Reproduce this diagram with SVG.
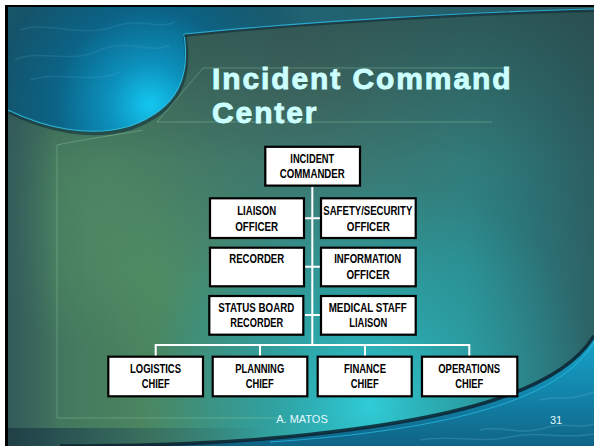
<svg xmlns="http://www.w3.org/2000/svg" width="594" height="446" viewBox="0 0 594 446">
<defs>
<linearGradient id="base" x1="0" y1="0" x2="1" y2="0">
<stop offset="0" stop-color="#3a665c"/>
<stop offset="0.1" stop-color="#44785e"/>
<stop offset="0.25" stop-color="#4b8760"/>
<stop offset="0.5" stop-color="#34908a"/>
<stop offset="0.78" stop-color="#2b8a8c"/>
<stop offset="1" stop-color="#2c6266"/>
</linearGradient>
<linearGradient id="topShade" x1="0" y1="0" x2="0" y2="1">
<stop offset="0" stop-color="#2a4848" stop-opacity="0.75"/>
<stop offset="0.35" stop-color="#2a4848" stop-opacity="0.15"/>
<stop offset="0.6" stop-color="#2a4848" stop-opacity="0"/>
<stop offset="1" stop-color="#2a4848" stop-opacity="0"/>
</linearGradient>
<radialGradient id="cyanGlow" cx="370" cy="405" r="230" gradientUnits="userSpaceOnUse">
<stop offset="0" stop-color="#2fd0dc" stop-opacity="0.95"/>
<stop offset="0.4" stop-color="#2ab4bc" stop-opacity="0.55"/>
<stop offset="1" stop-color="#2aa0a8" stop-opacity="0"/>
</radialGradient>
<radialGradient id="greenGlow" cx="110" cy="180" r="170" gradientUnits="userSpaceOnUse">
<stop offset="0" stop-color="#5a9c6a" stop-opacity="0.6"/>
<stop offset="1" stop-color="#5a9c6a" stop-opacity="0"/>
</radialGradient>
<radialGradient id="panelTone" cx="300" cy="70" r="260" gradientUnits="userSpaceOnUse">
<stop offset="0" stop-color="#4f6c60" stop-opacity="0.8"/>
<stop offset="0.6" stop-color="#44766c" stop-opacity="0.4"/>
<stop offset="1" stop-color="#44766c" stop-opacity="0"/>
</radialGradient>
<linearGradient id="leftStrip" x1="0" y1="0" x2="1" y2="0">
<stop offset="0" stop-color="#30585a" stop-opacity="0.8"/>
<stop offset="1" stop-color="#30585a" stop-opacity="0"/>
</linearGradient>
<radialGradient id="disc" cx="150" cy="105" r="190" gradientUnits="userSpaceOnUse">
<stop offset="0" stop-color="#14c8f0"/>
<stop offset="0.22" stop-color="#0c90bc"/>
<stop offset="0.5" stop-color="#0b6386"/>
<stop offset="0.8" stop-color="#14546a"/>
<stop offset="1" stop-color="#1c5664"/>
</radialGradient>
<linearGradient id="bandRight" x1="0" y1="0" x2="1" y2="0">
<stop offset="0" stop-color="#1c5a6c" stop-opacity="0"/>
<stop offset="0.3" stop-color="#246c7a" stop-opacity="0.6"/>
<stop offset="1" stop-color="#2a5a60" stop-opacity="0.9"/>
</linearGradient>
<linearGradient id="water" x1="0" y1="0" x2="0" y2="1">
<stop offset="0" stop-color="#17a4c8"/>
<stop offset="0.5" stop-color="#1386ac"/>
<stop offset="1" stop-color="#0f6486"/>
</linearGradient>
<linearGradient id="bottomDark" x1="0" y1="0" x2="1" y2="0">
<stop offset="0" stop-color="#1e3e44" stop-opacity="0.9"/>
<stop offset="0.5" stop-color="#1e4a58" stop-opacity="0.4"/>
<stop offset="1" stop-color="#1e4a58" stop-opacity="0"/>
</linearGradient>
<style>
.box{fill:#ffffff;stroke:#000000;stroke-width:2.2}
.lbl{font-family:"Liberation Sans",Arial,Helvetica,sans-serif;font-weight:bold;font-size:12px;fill:#000000;text-anchor:middle}
.wire{stroke:#ffffff;stroke-width:2;fill:none}
.title{font-family:"Liberation Sans",Arial,Helvetica,sans-serif;font-weight:bold;font-size:30px;fill:#ccffff;stroke:#ccffff;stroke-width:0.9;letter-spacing:1.9px}
.foot{font-family:"Liberation Sans",Arial,Helvetica,sans-serif;font-size:11px;fill:#e6f8ff}
.faint{fill:none;stroke:#9fd8b0;stroke-opacity:0.35;stroke-width:1}
</style>
</defs>

<g id="background">
<rect x="0" y="0" width="594" height="446" fill="#ffffff"/>
<rect x="5" y="5" width="589" height="441" fill="#000000"/>
<rect x="8" y="7" width="586" height="439" fill="url(#base)"/>
<rect x="8" y="7" width="586" height="439" fill="url(#greenGlow)"/>
<rect x="8" y="7" width="586" height="439" fill="url(#panelTone)"/>
<rect x="8" y="7" width="586" height="439" fill="url(#topShade)"/>
<rect x="8" y="7" width="586" height="439" fill="url(#cyanGlow)"/>
<rect x="8" y="7" width="48" height="439" fill="url(#leftStrip)"/>
<path d="M8,7 H594 V9 C470,12 300,22 184,34 C190,75 180,108 130,126 C90,138 45,128 8,110 Z" fill="url(#disc)"/>
<path d="M184,34 C300,22 470,12 594,9 V7 H184 Z" fill="url(#bandRight)"/>
<path d="M184,34 C190,75 180,108 130,126 C90,138 45,128 8,110" fill="none" stroke="#10303c" stroke-width="4" stroke-opacity="0.6" transform="translate(1,2)"/>
<path d="M184,34 C190,75 180,108 130,126 C90,138 45,128 8,110" fill="none" stroke="#2ab8dc" stroke-width="1.2"/>
<path d="M184,34 C300,22 470,12 594,9" fill="none" stroke="#102c38" stroke-width="3" stroke-opacity="0.6" transform="translate(0,1.5)"/>
<path d="M184,34 C300,22 470,12 594,9" fill="none" stroke="#2aa8d0" stroke-width="1.1"/>
<g fill="none" stroke="#5ab0d0" stroke-opacity="0.18" stroke-width="1.5">
<path d="M20,30 C50,20 80,40 120,25 C140,18 160,30 175,22"/>
<path d="M15,60 C40,48 70,65 100,50 C130,38 150,55 170,45"/>
<path d="M30,80 C60,70 90,85 120,72"/>
</g>
<path d="M594,336 C560,392 450,424 250,440 C180,445 120,446 60,446 H594 Z" fill="url(#water)"/>
<rect x="8" y="428" width="260" height="18" fill="url(#bottomDark)"/>
<path d="M594,336 C560,392 450,424 250,440 C180,445 120,446 60,446" fill="none" stroke="#0c2230" stroke-width="3.5" stroke-opacity="0.85"/>
<path d="M594,342 C562,398 455,430 270,442" fill="none" stroke="#2ac0e8" stroke-width="1" stroke-opacity="0.7"/>
<g fill="none" stroke="#7ad4f0" stroke-opacity="0.2" stroke-width="1.5">
<path d="M480,430 C500,425 520,436 545,428 C565,421 580,430 594,424"/>
<path d="M420,440 C450,434 480,444 510,437 C540,430 560,440 594,434"/>
<path d="M540,400 C555,395 570,402 594,392"/>
</g>
<path class="faint" d="M143,130 C110,136 80,140 57,145 V418 H280"/>
<path class="faint" d="M203,68 L157,122 H492"/>
<path class="faint" d="M203,68 H510"/>
</g>

<g id="title">
<text class="title" x="212" y="88.5">Incident Command</text>
<text class="title" x="212" y="123">Center</text>
</g>

<g id="connectors">
<path class="wire" d="M312.3,187 V345"/>
<path class="wire" d="M305,218.3 H320 M305,266.7 H320 M305,315 H320"/>
<path class="wire" d="M155.7,357 V345 H469.3 V357 M260,345 V357 M365,345 V357"/>
</g>

<g id="incident-commander">
<rect class="box" x="265.3" y="146.8" width="94.7" height="38.8"/>
<text class="lbl" x="312.3" y="162.7" textLength="44" lengthAdjust="spacingAndGlyphs">INCIDENT</text>
<text class="lbl" x="312.3" y="177.7" textLength="65" lengthAdjust="spacingAndGlyphs">COMMANDER</text>
</g>
<g id="liaison-officer">
<rect class="box" x="210" y="198.3" width="94" height="39.7"/>
<text class="lbl" x="256.7" y="215" textLength="39" lengthAdjust="spacingAndGlyphs">LIAISON</text>
<text class="lbl" x="256.7" y="230.7" textLength="43" lengthAdjust="spacingAndGlyphs">OFFICER</text>
</g>
<g id="safety-security-officer">
<rect class="box" x="321" y="198.3" width="94.7" height="39.7"/>
<text class="lbl" x="367.8" y="215" textLength="89" lengthAdjust="spacingAndGlyphs">SAFETY/SECURITY</text>
<text class="lbl" x="368.3" y="230.7" textLength="43" lengthAdjust="spacingAndGlyphs">OFFICER</text>
</g>
<g id="recorder">
<rect class="box" x="210" y="247.7" width="94" height="38.6"/>
<text class="lbl" x="256.7" y="263.3" textLength="55" lengthAdjust="spacingAndGlyphs">RECORDER</text>
</g>
<g id="information-officer">
<rect class="box" x="321" y="247.7" width="94.7" height="38.6"/>
<text class="lbl" x="367.7" y="263.3" textLength="67" lengthAdjust="spacingAndGlyphs">INFORMATION</text>
<text class="lbl" x="368" y="279.3" textLength="43" lengthAdjust="spacingAndGlyphs">OFFICER</text>
</g>
<g id="status-board-recorder">
<rect class="box" x="209.3" y="296" width="94" height="38.7"/>
<text class="lbl" x="256.3" y="311.7" textLength="76" lengthAdjust="spacingAndGlyphs">STATUS BOARD</text>
<text class="lbl" x="256.7" y="327.3" textLength="53" lengthAdjust="spacingAndGlyphs">RECORDER</text>
</g>
<g id="medical-staff-liaison">
<rect class="box" x="321" y="296" width="94.7" height="38.7"/>
<text class="lbl" x="367.7" y="311.7" textLength="78" lengthAdjust="spacingAndGlyphs">MEDICAL STAFF</text>
<text class="lbl" x="368.3" y="327.3" textLength="38" lengthAdjust="spacingAndGlyphs">LIAISON</text>
</g>
<g id="logistics-chief">
<rect class="box" x="108.3" y="356.7" width="94.7" height="39.6"/>
<text class="lbl" x="155.5" y="373.3" textLength="51" lengthAdjust="spacingAndGlyphs">LOGISTICS</text>
<text class="lbl" x="155.8" y="388.3" textLength="28" lengthAdjust="spacingAndGlyphs">CHIEF</text>
</g>
<g id="planning-chief">
<rect class="box" x="212.7" y="356.7" width="94.6" height="39.6"/>
<text class="lbl" x="259.7" y="373.3" textLength="49" lengthAdjust="spacingAndGlyphs">PLANNING</text>
<text class="lbl" x="259.8" y="388.3" textLength="28" lengthAdjust="spacingAndGlyphs">CHIEF</text>
</g>
<g id="finance-chief">
<rect class="box" x="317.7" y="356.7" width="94" height="39.6"/>
<text class="lbl" x="365" y="373.3" textLength="42" lengthAdjust="spacingAndGlyphs">FINANCE</text>
<text class="lbl" x="364.8" y="388.3" textLength="28" lengthAdjust="spacingAndGlyphs">CHIEF</text>
</g>
<g id="operations-chief">
<rect class="box" x="422" y="356.7" width="95.3" height="39.6"/>
<text class="lbl" x="469.2" y="373.3" textLength="62" lengthAdjust="spacingAndGlyphs">OPERATIONS</text>
<text class="lbl" x="469.2" y="388.3" textLength="28" lengthAdjust="spacingAndGlyphs">CHIEF</text>
</g>

<g id="footer">
<text class="foot" x="302" y="423.3" text-anchor="middle">A. MATOS</text>
<text class="foot" x="550" y="424">31</text>
</g>
</svg>
